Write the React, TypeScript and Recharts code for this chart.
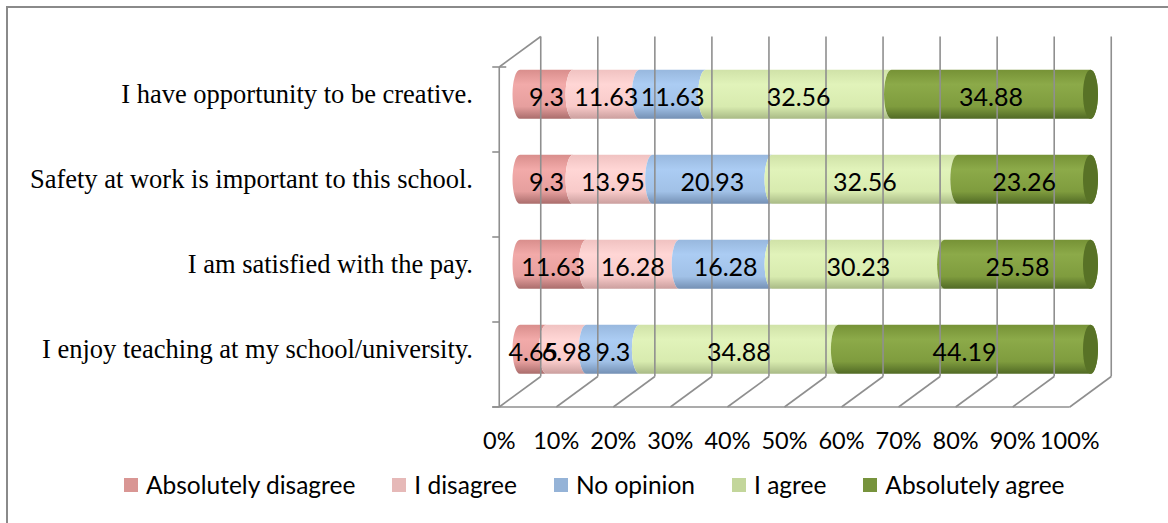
import React from 'react';
import { BarChart, Bar, XAxis, YAxis, ReferenceLine, ReferenceArea, LabelList } from 'recharts';

// ---------- data ----------
const categories = [
  'I have opportunity to be creative.',
  'Safety at work is important to this school.',
  'I am satisfied with the pay.',
  'I enjoy teaching at my school/university.',
];
const absolutelyDisagree = [9.3, 9.3, 11.63, 4.65];
const iDisagree = [11.63, 13.95, 16.28, 6.98];
const noOpinion = [11.63, 20.93, 16.28, 9.3];
const iAgree = [32.56, 32.56, 30.23, 34.88];
const absolutelyAgree = [34.88, 23.26, 25.58, 44.19];
const seriesNames = ['Absolutely disagree', 'I disagree', 'No opinion', 'I agree', 'Absolutely agree'];
const xTicks = [0, 10, 20, 30, 40, 50, 60, 70, 80, 90, 100];

const seriesValues = [absolutelyDisagree, iDisagree, noOpinion, iAgree, absolutelyAgree];
const keys = ['ad', 'id', 'no', 'ia', 'aa'];

const data = categories.map((c, i) => {
  const row: any = { category: c };
  keys.forEach((k, j) => (row[k] = seriesValues[j][i]));
  return row;
});

// ---------- style ----------
const legendColors = ['#D99694', '#E6B9B8', '#95B3D7', '#C3D69B', '#77933C'];
const gradients = [
  ['#D98E8C', '#F2AAA9', '#E69F9E', '#AA6D6C'],
  ['#F0C2C1', '#FFD6D5', '#F8CAC9', '#CB9F9E'],
  ['#98B8DE', '#ABCCF3', '#A1C1E7', '#7490B4'],
  ['#D0E2A8', '#E1F3BA', '#D8EBAF', '#A9BA86'],
  ['#769236', '#8CAA49', '#7F9C3E', '#516A25'],
];
const capColor = '#587226';
const DX = 20.75;
const DY = 15.25;
const RX = 7.5;
const GRID = '#8f8f8f';
const SANS = 'Lato, "Open Sans", sans-serif';
const SERIF = '"Liberation Serif", "Times New Roman", serif';

const Cylinder = (props: any) => {
  const { x, y, width, height, sIndex, index } = props;
  if (width == null || height == null || width <= 0) return null;
  const top = y;
  const bottom = y + height;
  const ry = height / 2;
  const isLast = sIndex === keys.length - 1;
  const gid = `cyl-${sIndex}-${index}`;
  const g = gradients[sIndex];
  const right = x + width;
  const d = isLast
    ? `M ${x},${top} L ${right},${top} A ${RX},${ry} 0 0 1 ${right},${bottom} L ${x},${bottom} A ${RX},${ry} 0 0 1 ${x},${top} Z`
    : `M ${x},${top} L ${right},${top} A ${RX},${ry} 0 0 0 ${right},${bottom} L ${x},${bottom} A ${RX},${ry} 0 0 1 ${x},${top} Z`;
  return (
    <g>
      <defs>
        <linearGradient id={gid} x1="0" y1="0" x2="0" y2="1">
          <stop offset="0" stopColor={g[0]} />
          <stop offset="0.3" stopColor={g[1]} />
          <stop offset="0.75" stopColor={g[2]} />
          <stop offset="1" stopColor={g[3]} />
        </linearGradient>
      </defs>
      <path d={d} fill={`url(#${gid})`} />
      {isLast && <ellipse cx={right} cy={top + ry} rx={RX} ry={ry} fill={capColor} />}
    </g>
  );
};

const GridLineShape = (props: any) => {
  const { x1, y1, y2 } = props;
  const top = Math.min(y1, y2);
  const bottom = Math.max(y1, y2);
  return (
    <g>
      <line x1={x1 + DX} y1={top - DY} x2={x1 + DX} y2={bottom - DY} stroke={GRID} strokeWidth={1.6} />
      <line x1={x1 + DX} y1={bottom - DY} x2={x1 - DX} y2={bottom + DY} stroke={GRID} strokeWidth={1.6} />
    </g>
  );
};

const FrameShape = (props: any) => {
  const { x, y, width, height } = props;
  const n = categories.length;
  const fx = x - DX;
  const ticks = [];
  for (let k = 0; k <= n; k++) {
    const ty = y + DY + (k * height) / n;
    ticks.push(<line key={k} x1={fx - 7} y1={ty} x2={k === 0 ? fx + 7 : fx} y2={ty} stroke={GRID} strokeWidth={1.6} />);
  }
  return (
    <g>
      <line x1={x + DX} y1={y - DY} x2={fx} y2={y + DY} stroke={GRID} strokeWidth={1.6} />
      <line x1={fx} y1={y + DY} x2={fx} y2={y + height + DY} stroke={GRID} strokeWidth={1.6} />
      <line x1={fx - 7} y1={y + height + DY} x2={x + width - DX} y2={y + height + DY} stroke={GRID} strokeWidth={1.6} />
      {ticks}
    </g>
  );
};

const XTick = (props: any) => {
  const { x, y, payload } = props;
  return (
    <text x={x - DX} y={y + 57} textAnchor="middle" fontFamily={SANS} fontSize={23.5} fill="#000">
      {`${payload.value}%`}
    </text>
  );
};

const YTick = (props: any) => {
  const { x, y, payload } = props;
  return (
    <text x={x - 47} y={y + 9} textAnchor="end" fontFamily={SERIF} fontSize={26.5} fill="#000">
      {payload.value}
    </text>
  );
};

export default function App() {
  return (
    <div style={{ position: 'absolute', left: 0, top: 0, width: 1168, height: 523, overflow: 'hidden', background: '#fff' }}>
      <div
        style={{
          position: 'absolute',
          left: 6,
          top: 6,
          width: 1200,
          height: 600,
          border: '2px solid #8a8a8a',
          boxSizing: 'border-box',
        }}
      />
      <div style={{ position: 'absolute', left: 0, top: 0 }}>
        <BarChart
          width={1168}
          height={523}
          data={data}
          layout="vertical"
          margin={{ top: 51.75, right: 77.5, bottom: 101.25, left: 20 }}
          barSize={49}
        >
          <XAxis
            type="number"
            domain={[0, 100]}
            ticks={xTicks}
            axisLine={false}
            tickLine={false}
            tickSize={0}
            tickMargin={0}
            height={30}
            interval={0}
            tick={<XTick />}
          />
          <YAxis
            type="category"
            dataKey="category"
            width={500}
            axisLine={false}
            tickLine={false}
            tickSize={0}
            tickMargin={0}
            interval={0}
            tick={<YTick />}
          />
          <ReferenceArea x1={0} x2={100} shape={(p: any) => <FrameShape {...p} />} ifOverflow="visible" />
          {xTicks.map((t) => (
            <ReferenceLine key={t} x={t} shape={(p: any) => <GridLineShape {...p} />} ifOverflow="visible" />
          ))}
          {keys.map((k, i) => (
            <Bar
              key={k}
              dataKey={k}
              name={seriesNames[i]}
              stackId="s"
              fill={legendColors[i]}
              isAnimationActive={false}
              shape={(p: any) => <Cylinder {...p} sIndex={i} />}
            >
              <LabelList
                dataKey={k}
                position="center"
                fill="#000"
                fontFamily={SANS}
                fontSize={25}
                dy={3}
                formatter={(v: any) => `${v}`}
              />
            </Bar>
          ))}
        </BarChart>
      </div>
      <div
        style={{
          position: 'absolute',
          left: 124,
          top: 470,
          display: 'flex',
          alignItems: 'center',
          fontFamily: SANS,
          fontSize: 24.5,
          color: '#000',
          whiteSpace: 'nowrap',
        }}
      >
        {seriesNames.map((n, i) => (
          <div key={n} style={{ display: 'flex', alignItems: 'center', marginRight: 37 }}>
            <div style={{ width: 14, height: 14, background: legendColors[i], marginRight: 8 }} />
            <span style={{ lineHeight: '30px' }}>{n}</span>
          </div>
        ))}
      </div>
    </div>
  );
}
